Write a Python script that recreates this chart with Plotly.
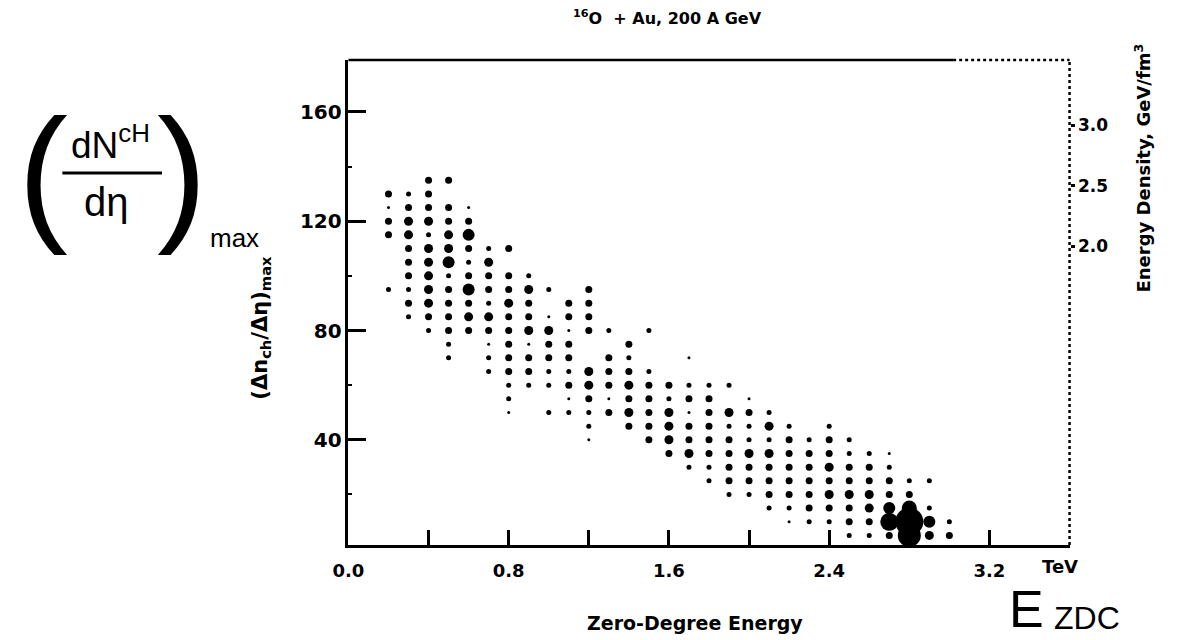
import plotly.graph_objects as go

# ---------------- data ----------------
x_bins = [0.2, 0.3, 0.4, 0.5, 0.6, 0.7, 0.8, 0.9, 1.0, 1.1, 1.2, 1.3, 1.4, 1.5, 1.6,
          1.7, 1.8, 1.9, 2.0, 2.1, 2.2, 2.3, 2.4, 2.5, 2.6, 2.7, 2.8, 2.9, 3.0]
y_bins = [135, 130, 125, 120, 115, 110, 105, 100, 95, 90, 85, 80, 75, 70,
          65, 60, 55, 50, 45, 40, 35, 30, 25, 20, 15, 10, 5]
# relative cell contents (dot size class) row by row, columns follow x_bins
counts = [
    [0,0,3,3,0,0,0,0,0,0,0,0,0,0,0,0,0,0,0,0,0,0,0,0,0,0,0,0,0],  # 135
    [3,2,3,0,0,0,0,0,0,0,0,0,0,0,0,0,0,0,0,0,0,0,0,0,0,0,0,0,0],  # 130
    [1,3,3,3,1,0,0,0,0,0,0,0,0,0,0,0,0,0,0,0,0,0,0,0,0,0,0,0,0],  # 125
    [3,4,4,3,3,0,0,0,0,0,0,0,0,0,0,0,0,0,0,0,0,0,0,0,0,0,0,0,0],  # 120
    [3,4,2,4,5,0,0,0,0,0,0,0,0,0,0,0,0,0,0,0,0,0,0,0,0,0,0,0,0],  # 115
    [0,3,4,4,3,2,3,0,0,0,0,0,0,0,0,0,0,0,0,0,0,0,0,0,0,0,0,0,0],  # 110
    [0,3,4,5,2,4,0,0,0,0,0,0,0,0,0,0,0,0,0,0,0,0,0,0,0,0,0,0,0],  # 105
    [0,3,4,2,3,3,3,2,0,0,0,0,0,0,0,0,0,0,0,0,0,0,0,0,0,0,0,0,0],  # 100
    [2,2,4,3,5,3,3,4,2,0,3,0,0,0,0,0,0,0,0,0,0,0,0,0,0,0,0,0,0],  # 95
    [0,3,4,3,3,2,4,3,0,3,3,0,0,0,0,0,0,0,0,0,0,0,0,0,0,0,0,0,0],  # 90
    [0,2,3,3,4,4,3,3,1,3,3,0,0,0,0,0,0,0,0,0,0,0,0,0,0,0,0,0,0],  # 85
    [0,0,2,3,3,3,3,4,4,1,3,2,0,2,0,0,0,0,0,0,0,0,0,0,0,0,0,0,0],  # 80
    [0,0,0,2,0,1,3,1,3,3,0,0,3,0,0,0,0,0,0,0,0,0,0,0,0,0,0,0,0],  # 75
    [0,0,0,2,0,2,3,3,3,3,0,3,2,0,0,1,0,0,0,0,0,0,0,0,0,0,0,0,0],  # 70
    [0,0,0,0,0,2,3,3,2,2,4,3,3,2,0,0,0,0,0,0,0,0,0,0,0,0,0,0,0],  # 65
    [0,0,0,0,0,0,2,2,2,3,4,3,4,3,3,2,2,2,0,0,0,0,0,0,0,0,0,0,0],  # 60
    [0,0,0,0,0,0,2,0,0,1,3,1,3,3,2,3,3,0,1,0,0,0,0,0,0,0,0,0,0],  # 55
    [0,0,0,0,0,0,1,0,2,2,2,3,4,3,4,1,3,4,3,2,0,0,0,0,0,0,0,0,0],  # 50
    [0,0,0,0,0,0,0,0,0,0,2,0,3,3,4,3,3,2,2,4,2,0,2,0,0,0,0,0,0],  # 45
    [0,0,0,0,0,0,0,0,0,0,1,0,0,3,4,3,3,3,2,2,3,2,3,2,0,0,0,0,0],  # 40
    [0,0,0,0,0,0,0,0,0,0,0,0,0,0,3,4,3,3,4,4,3,3,3,2,2,1,0,0,0],  # 35
    [0,0,0,0,0,0,0,0,0,0,0,0,0,0,0,2,2,3,3,3,3,3,4,3,3,2,0,0,0],  # 30
    [0,0,0,0,0,0,0,0,0,0,0,0,0,0,0,0,2,3,3,3,3,3,3,3,3,3,2,2,0],  # 25
    [0,0,0,0,0,0,0,0,0,0,0,0,0,0,0,0,0,2,2,3,3,3,4,4,4,3,3,0,0],  # 20
    [0,0,0,0,0,0,0,0,0,0,0,0,0,0,0,0,0,0,0,2,2,3,3,3,4,5,6,2,0],  # 15
    [0,0,0,0,0,0,0,0,0,0,0,0,0,0,0,0,0,0,0,0,1,2,2,3,3,7,9,5,2],  # 10
    [0,0,0,0,0,0,0,0,0,0,0,0,0,0,0,0,0,0,0,0,0,0,0,2,2,3,8,4,3],  # 5
]
x_tickvals = [0.0, 0.8, 1.6, 2.4, 3.2]
x_ticktext = ["0.0", "0.8", "1.6", "2.4", "3.2"]
x_minor_ticks = [0.4, 1.2, 2.0, 2.8]
y_tickvals = [40, 80, 120, 160]
y_ticktext = ["40", "80", "120", "160"]
y_minor_ticks = [20, 60, 100, 140]
eps_tickvals = [2.0, 2.5, 3.0]
eps_ticktext = ["2.0", "2.5", "3.0"]

# ---------------- style ----------------
size_of = {1: 3, 2: 5, 3: 7, 4: 9, 5: 12, 6: 15, 7: 18, 8: 23, 9: 28}
W, H = 1183, 640
X0, X1 = 337, 1068      # plot frame, pixels
Y0, Y1 = 545, 60
YR = [1.5, 179.0]
XR = [0.0, 3.6]
Y2R = [-0.469, 3.539]   # energy density scale on the right
FONT = "DejaVu Sans"
HW = "Liberation Sans"

px, py, ps = [], [], []
for i, yv in enumerate(y_bins):
    for j, xv in enumerate(x_bins):
        c = counts[i][j]
        if c > 0:
            px.append(xv)
            py.append(yv)
            ps.append(size_of[c])

fig = go.Figure()
fig.add_trace(go.Scatter(
    x=px, y=py, mode="markers",
    marker=dict(size=ps, color="#000000", opacity=1, line=dict(width=0)),
    showlegend=False, hoverinfo="skip"))

# invisible trace to activate the right-hand axis
fig.add_trace(go.Scatter(x=[None], y=[None], yaxis="y2", showlegend=False, hoverinfo="skip"))


def pxp(x):
    return x / W


def pyp(y):
    return 1 - y / H


def bold(size, family=FONT):
    return dict(size=size, family=family, color="black", weight="bold")


def hand(size):
    return dict(size=size, family=HW, color="black")


fig.update_layout(
    width=W, height=H,
    margin=dict(l=0, r=0, t=0, b=0),
    paper_bgcolor="white", plot_bgcolor="white",
    font=dict(family=FONT, color="black"),
    xaxis=dict(
        domain=[pxp(X0), pxp(X1)], range=XR,
        showgrid=False, zeroline=False,
        showline=True, linecolor="black", linewidth=2.5, mirror=False,
        ticks="inside", ticklen=15, tickwidth=2.5, tickcolor="black",
        tickvals=x_tickvals, ticktext=x_ticktext,
        tickfont=bold(18), ticklabelstandoff=8,
        minor=dict(ticks="inside", ticklen=15, tickwidth=2.5, tickcolor="black",
                   tickvals=x_minor_ticks, showgrid=False),
    ),
    yaxis=dict(
        domain=[pyp(Y0), pyp(Y1)], range=YR,
        showgrid=False, zeroline=False,
        showline=True, linecolor="black", linewidth=2.5,
        ticks="inside", ticklen=18, tickwidth=2.5, tickcolor="black",
        tickvals=y_tickvals, ticktext=y_ticktext,
        tickfont=bold(20), ticklabelstandoff=0,
        minor=dict(ticks="inside", ticklen=4, tickwidth=2, tickcolor="black",
                   tickvals=y_minor_ticks, showgrid=False),
    ),
    yaxis2=dict(
        overlaying="y", side="right", anchor="x",
        range=Y2R,
        showgrid=False, zeroline=False, showline=False,
        ticks="outside", ticklen=4, tickwidth=2.5, tickcolor="black",
        tickvals=eps_tickvals, ticktext=eps_ticktext,
        tickfont=bold(17),
    ),
)

# frame: top solid then broken, right dotted (as in the scan)
fig.add_shape(type="line", xref="paper", yref="paper",
              x0=pxp(X0), x1=pxp(950), y0=pyp(Y1), y1=pyp(Y1),
              line=dict(color="black", width=2.5))
fig.add_shape(type="line", xref="paper", yref="paper",
              x0=pxp(950), x1=pxp(X1), y0=pyp(Y1), y1=pyp(Y1),
              line=dict(color="black", width=2.5, dash="dot"))
fig.add_shape(type="line", xref="paper", yref="paper",
              x0=pxp(X1), x1=pxp(X1), y0=pyp(Y0), y1=pyp(Y1),
              line=dict(color="black", width=2.5, dash="dot"))

ann = []
# title
ann.append(dict(x=pxp(660), y=pyp(18), text="<sup>16</sup>O  + Au, 200 A GeV", font=bold(16)))
# x title and unit
ann.append(dict(x=pxp(688), y=pyp(623), text="Zero-Degree Energy", font=bold(19)))
ann.append(dict(x=pxp(1058), y=pyp(566), text="TeV", font=bold(18)))
# y title (printed)
ann.append(dict(x=pxp(248), y=pyp(328), text="(Δn<sub>ch</sub>/Δη)<sub>max</sub>",
                textangle=-90, font=bold(21)))
# right axis title
ann.append(dict(x=pxp(1142), y=pyp(168), text="Energy Density, GeV/fm<sup>3</sup>",
                textangle=-90, font=bold(18)))
# handwritten annotations
ann.append(dict(x=pxp(27), y=pyp(172), text="(", font=hand(150)))
ann.append(dict(x=pxp(168), y=pyp(172), text=")", font=hand(150)))
ann.append(dict(x=pxp(96), y=pyp(143), text="dN<sup>cH</sup>", font=hand(37)))
ann.append(dict(x=pxp(92), y=pyp(202), text="dη", font=hand(40)))
ann.append(dict(x=pxp(222), y=pyp(238), text="max", font=hand(26)))
ann.append(dict(x=pxp(1024), y=pyp(609), text="E", font=hand(52)))
ann.append(dict(x=pxp(1086), y=pyp(618), text="ZDC", font=hand(32)))
for a in ann:
    a.update(xref="paper", yref="paper", showarrow=False, xanchor="center", yanchor="middle")
fig.update_layout(annotations=ann)
fig.add_shape(type="line", xref="paper", yref="paper",
              x0=pxp(47), x1=pxp(148), y0=pyp(173), y1=pyp(173),
              line=dict(color="black", width=3))

fig.write_html("out.html")
